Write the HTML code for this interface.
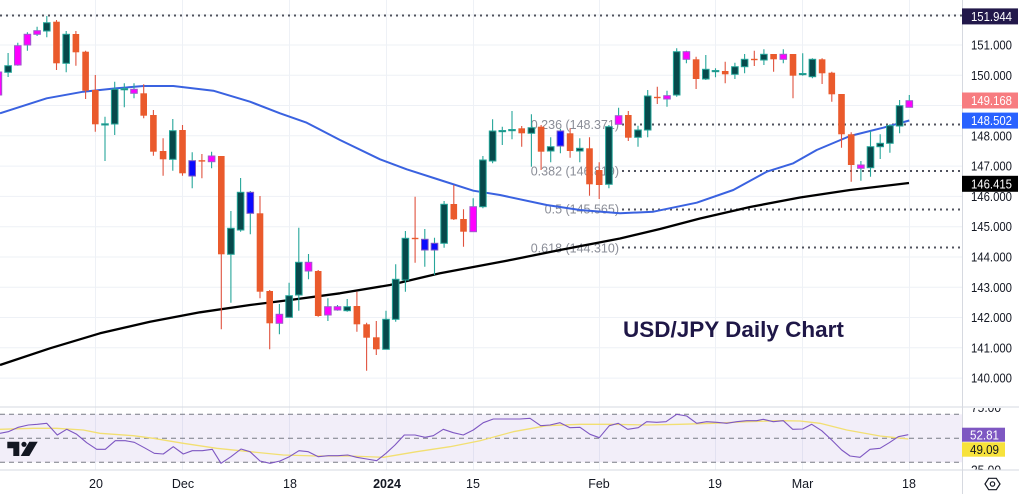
<!DOCTYPE html>
<html><head><meta charset="utf-8"><style>
html,body{margin:0;padding:0;background:#fff;}
svg{display:block;font-family:"Liberation Sans",Arial,sans-serif;}
.gw{stroke:#26a69a;stroke-width:1.1;fill:none}
.rw{stroke:#e0533f;stroke-width:1.1;fill:none}
.gb{fill:#07494b;stroke:#26a69a;stroke-width:1}
.rb{fill:#ea5a2c}
.pb{fill:#ff00ff;stroke:#9d5ccc;stroke-width:1}
.bb{fill:#0b0bff;stroke:#7e57c2;stroke-width:1}
.ax{font-size:13px;fill:#131722}
.fib{font-size:12.5px;fill:#8a8d97}
</style></head><body>
<svg width="1019" height="494" viewBox="0 0 1019 494" xmlns="http://www.w3.org/2000/svg">
<defs>
<clipPath id="rsiax"><rect x="962" y="408" width="57" height="61.5"/></clipPath>
<clipPath id="main"><rect x="0" y="0" width="962" height="407"/></clipPath>
</defs>
<rect width="1019" height="494" fill="#fff"/>
<g stroke="#eef1f6" stroke-width="1">
<line x1="0" x2="962" y1="15" y2="15"/><line x1="0" x2="962" y1="45" y2="45"/><line x1="0" x2="962" y1="75.3" y2="75.3"/><line x1="0" x2="962" y1="105.5" y2="105.5"/><line x1="0" x2="962" y1="135.8" y2="135.8"/><line x1="0" x2="962" y1="166.1" y2="166.1"/><line x1="0" x2="962" y1="196.4" y2="196.4"/><line x1="0" x2="962" y1="226.7" y2="226.7"/><line x1="0" x2="962" y1="257" y2="257"/><line x1="0" x2="962" y1="287.3" y2="287.3"/><line x1="0" x2="962" y1="317.5" y2="317.5"/><line x1="0" x2="962" y1="347.8" y2="347.8"/><line x1="0" x2="962" y1="378.1" y2="378.1"/>
</g>
<g stroke="#eef1f6" stroke-width="1">
<line x1="95.5" x2="95.5" y1="0" y2="470"/><line x1="182.5" x2="182.5" y1="0" y2="470"/><line x1="289.5" x2="289.5" y1="0" y2="470"/><line x1="386.5" x2="386.5" y1="0" y2="470"/><line x1="473.5" x2="473.5" y1="0" y2="470"/><line x1="599.5" x2="599.5" y1="0" y2="470"/><line x1="715.5" x2="715.5" y1="0" y2="470"/><line x1="802.5" x2="802.5" y1="0" y2="470"/><line x1="909.5" x2="909.5" y1="0" y2="470"/>
</g>
<text class="fib" x="619" y="128.8" text-anchor="end">0.236 (148.371)</text>
<text class="fib" x="619" y="175.3" text-anchor="end">0.382 (146.819)</text>
<text class="fib" x="619" y="213.5" text-anchor="end">0.5 (145.565)</text>
<text class="fib" x="619" y="252.5" text-anchor="end">0.618 (144.310)</text>
<g stroke="#50535e" stroke-width="2" stroke-dasharray="2 4" fill="none">
<line x1="0" x2="962" y1="15.5" y2="15.5"/>
<line x1="622" x2="962" y1="124.5" y2="124.5"/>
<line x1="622" x2="962" y1="171" y2="171"/>
<line x1="622" x2="962" y1="209.5" y2="209.5"/>
<line x1="622" x2="962" y1="247.5" y2="247.5"/>
</g>
<text x="623" y="337" font-size="22.5" font-weight="bold" fill="#1f1747">USD/JPY Daily Chart</text>
<g clip-path="url(#main)">
<polyline fill="none" stroke="#000" stroke-width="2.3" stroke-linejoin="round" points="0,365 50,348.3 100,333.3 150,321.7 200,312.3 250,305 290,300 340,293.3 390,285 440,273.3 500,262 513,259.5 560,250 620,238.5 660,229 700,218.5 750,207 800,197.5 850,190 909,183"/>
<polyline fill="none" stroke="#3a62e0" stroke-width="2" stroke-linejoin="round" points="0,113.3 46.7,98.3 83.3,91.7 116.7,88.3 143.3,86 173.3,86 213.3,90.7 250,101.7 280,113.3 306.7,122.7 340,140 380,159.3 406.7,169.3 440,180 473.3,190.7 500,195 546.7,205 580,210 620,213.3 653.3,211.7 696.7,202.7 733.3,190 766.7,171.7 793.3,163.3 816.7,150 850,136 883.3,127.7 909.3,120.5"/>
<path class="gw" d="M-1.6 69V98 M8.1 53V77 M17.8 42.7V65.7 M27.4 32.3V50.7 M37.1 26.7V36 M46.8 16V37.3 M66.2 31V72.3 M105 116.7V161 M114.7 81.7V135 M124.3 83.3V107.3 M134 83.3V98.3 M172.8 119V170.7 M192.2 152.3V188.3 M211.6 151.7V168.3 M230.9 211V302.7 M240.6 178V231.7 M250.3 191V234.3 M279.4 304V334.3 M289.1 282.7V317.3 M298.8 227.7V310.7 M308.5 254V279.3 M327.9 298.3V321 M337.5 305V310.7 M347.2 299V311.7 M386 310.7V349.3 M395.7 264.3V321.7 M405.4 231V291.7 M424.8 229V266.7 M434.5 237.7V275 M444.1 201V247.7 M473.2 198.3V231.7 M482.9 156V208.3 M492.6 119.3V163.3 M502.3 126.7V145 M512 111V139.3 M531.4 114.3V166.7 M550.7 137.3V162.3 M560.4 129V153.3 M579.8 138.3V162.3 M608.9 125V188.3 M618.6 107.7V124.3 M638 125.7V146.7 M647.7 90V137.3 M667 90.7V106.7 M676.7 48.3V96.7 M686.4 50.7V63.3 M705.8 55V80 M715.5 68.3V77.3 M734.9 62.7V79 M744.6 54V73.3 M763.9 49.3V65 M783.3 49.3V63.3 M802.7 53.3V75.7 M812.4 58.3V78.3 M860.9 161V180.7 M870.5 131V176.7 M880.2 134.3V159 M889.9 124.3V152.7 M899.6 100V133.3 M909.3 95V107.3"/>
<path class="rw" d="M56.5 20V70 M75.9 31V65.7 M85.6 50.7V99 M95.3 75V131.7 M143.7 84.3V118.3 M153.4 110V155.7 M163.1 138.3V175.7 M182.5 125V175.7 M201.9 154V178.3 M221.3 156V329.3 M260 196V298.3 M269.7 290V349.3 M318.2 270V316.7 M356.9 291.7V331.7 M366.6 322.7V370.7 M376.3 321V355 M415.1 196.7V262.7 M453.8 185V220 M463.5 209.3V246.7 M521.7 126V146.7 M541.1 125V170 M570.1 128.3V157.7 M589.5 137.3V195.7 M599.2 162.3V199 M628.3 111V141 M657.3 86.7V104 M696.1 56.7V89 M725.2 61.7V83.3 M754.3 50.7V66 M773.6 54V71.7 M793 54V98.3 M822.1 58.3V84 M831.8 71.7V101.7 M841.5 94V147.7 M851.2 132.3V181.7"/>
<g>
<rect class="pb" x="-4.9" y="72" width="6.6" height="23"/>
<rect class="gb" x="4.8" y="65.7" width="6.6" height="6.6"/>
<rect class="pb" x="14.5" y="45.7" width="6.6" height="19.3"/>
<rect class="pb" x="24.1" y="34.3" width="6.6" height="10.7"/>
<rect class="pb" x="33.8" y="30.7" width="6.6" height="3.6"/>
<rect class="gb" x="43.5" y="22.7" width="6.6" height="8.3"/>
<rect class="rb" x="53.2" y="21.7" width="6.6" height="41.6"/>
<rect class="gb" x="62.9" y="34.3" width="6.6" height="29"/>
<rect class="rb" x="72.6" y="34" width="6.6" height="18.3"/>
<rect class="rb" x="82.3" y="51.7" width="6.6" height="39"/>
<rect class="rb" x="92" y="90" width="6.6" height="34.3"/>
<rect class="gb" x="101.7" y="123.8" width="6.6" height="1.2"/>
<rect class="gb" x="111.4" y="89.3" width="6.6" height="34.7"/>
<rect class="gb" x="121" y="88.6" width="6.6" height="1.2"/>
<rect class="pb" x="130.7" y="89.3" width="6.6" height="4"/>
<rect class="rb" x="140.4" y="93.3" width="6.6" height="22.4"/>
<rect class="rb" x="150.1" y="115" width="6.6" height="36.7"/>
<rect class="rb" x="159.8" y="151" width="6.6" height="8.3"/>
<rect class="gb" x="169.5" y="130.7" width="6.6" height="28.6"/>
<rect class="rb" x="179.2" y="130" width="6.6" height="43.3"/>
<rect class="bb" x="188.9" y="160.7" width="6.6" height="15.3"/>
<rect class="rb" x="198.6" y="160.2" width="6.6" height="1.4"/>
<rect class="pb" x="208.3" y="156" width="6.6" height="5.7"/>
<rect class="rb" x="218" y="156" width="6.6" height="98.3"/>
<rect class="gb" x="227.6" y="228.3" width="6.6" height="26"/>
<rect class="gb" x="237.3" y="192.3" width="6.6" height="37.7"/>
<rect class="bb" x="247" y="192.3" width="6.6" height="21"/>
<rect class="rb" x="256.7" y="213.3" width="6.6" height="78.4"/>
<rect class="rb" x="266.4" y="291" width="6.6" height="32.3"/>
<rect class="pb" x="276.1" y="314.3" width="6.6" height="9"/>
<rect class="gb" x="285.8" y="295.7" width="6.6" height="21.6"/>
<rect class="gb" x="295.5" y="262.3" width="6.6" height="32.7"/>
<rect class="pb" x="305.2" y="262.3" width="6.6" height="8.7"/>
<rect class="rb" x="314.9" y="271" width="6.6" height="45"/>
<rect class="pb" x="324.6" y="306.7" width="6.6" height="8.3"/>
<rect class="pb" x="334.2" y="306.7" width="6.6" height="3.3"/>
<rect class="gb" x="343.9" y="306.7" width="6.6" height="4"/>
<rect class="rb" x="353.6" y="306" width="6.6" height="18.3"/>
<rect class="rb" x="363.3" y="324.3" width="6.6" height="13.4"/>
<rect class="rb" x="373" y="337.3" width="6.6" height="12"/>
<rect class="gb" x="382.7" y="319.3" width="6.6" height="30"/>
<rect class="gb" x="392.4" y="279.3" width="6.6" height="40"/>
<rect class="gb" x="402.1" y="238.3" width="6.6" height="41.7"/>
<rect class="rb" x="411.8" y="237.8" width="6.6" height="1.4"/>
<rect class="bb" x="421.5" y="239.3" width="6.6" height="10.7"/>
<rect class="bb" x="431.2" y="243.3" width="6.6" height="6.7"/>
<rect class="gb" x="440.8" y="204.3" width="6.6" height="39"/>
<rect class="rb" x="450.5" y="204" width="6.6" height="15.3"/>
<rect class="rb" x="460.2" y="219" width="6.6" height="12.7"/>
<rect class="pb" x="469.9" y="206.7" width="6.6" height="25"/>
<rect class="gb" x="479.6" y="160" width="6.6" height="46.7"/>
<rect class="gb" x="489.3" y="131" width="6.6" height="30"/>
<rect class="gb" x="499" y="130.5" width="6.6" height="1.2"/>
<rect class="gb" x="508.7" y="129.5" width="6.6" height="1.2"/>
<rect class="rb" x="518.4" y="128.3" width="6.6" height="5"/>
<rect class="gb" x="528.1" y="127.7" width="6.6" height="5.6"/>
<rect class="rb" x="537.8" y="126.7" width="6.6" height="25"/>
<rect class="gb" x="547.4" y="146.7" width="6.6" height="4.3"/>
<rect class="bb" x="557.1" y="131" width="6.6" height="15"/>
<rect class="rb" x="566.8" y="133.3" width="6.6" height="17.7"/>
<rect class="gb" x="576.5" y="148.3" width="6.6" height="2.7"/>
<rect class="rb" x="586.2" y="148.3" width="6.6" height="36"/>
<rect class="rb" x="595.9" y="170" width="6.6" height="15"/>
<rect class="gb" x="605.6" y="126.7" width="6.6" height="57.6"/>
<rect class="pb" x="615.3" y="115.7" width="6.6" height="8.6"/>
<rect class="rb" x="625" y="115" width="6.6" height="22.7"/>
<rect class="gb" x="634.7" y="130" width="6.6" height="7.3"/>
<rect class="gb" x="644.4" y="96" width="6.6" height="34"/>
<rect class="rb" x="654" y="96.8" width="6.6" height="1.4"/>
<rect class="pb" x="663.7" y="95.7" width="6.6" height="3.3"/>
<rect class="gb" x="673.4" y="51.7" width="6.6" height="43.3"/>
<rect class="pb" x="683.1" y="51.7" width="6.6" height="7.6"/>
<rect class="rb" x="692.8" y="59.3" width="6.6" height="19.7"/>
<rect class="gb" x="702.5" y="69.3" width="6.6" height="9.7"/>
<rect class="gb" x="712.2" y="70.5" width="6.6" height="1.2"/>
<rect class="rb" x="721.9" y="71" width="6.6" height="3.3"/>
<rect class="gb" x="731.6" y="66.7" width="6.6" height="7.6"/>
<rect class="gb" x="741.3" y="59.3" width="6.6" height="7.4"/>
<rect class="rb" x="751" y="58.8" width="6.6" height="1.4"/>
<rect class="gb" x="760.6" y="54.3" width="6.6" height="5.7"/>
<rect class="rb" x="770.3" y="54" width="6.6" height="5.3"/>
<rect class="pb" x="780" y="54.3" width="6.6" height="5"/>
<rect class="rb" x="789.7" y="54" width="6.6" height="21.7"/>
<rect class="gb" x="799.4" y="73.5" width="6.6" height="1.2"/>
<rect class="gb" x="809.1" y="59.3" width="6.6" height="17.4"/>
<rect class="rb" x="818.8" y="59.3" width="6.6" height="14"/>
<rect class="rb" x="828.5" y="72.7" width="6.6" height="21.6"/>
<rect class="rb" x="838.2" y="94" width="6.6" height="40.3"/>
<rect class="rb" x="847.9" y="134.3" width="6.6" height="30.7"/>
<rect class="pb" x="857.6" y="165" width="6.6" height="3.3"/>
<rect class="gb" x="867.2" y="146.7" width="6.6" height="21"/>
<rect class="gb" x="876.9" y="143.3" width="6.6" height="3.4"/>
<rect class="gb" x="886.6" y="125.7" width="6.6" height="17.6"/>
<rect class="gb" x="896.3" y="105.7" width="6.6" height="20.3"/>
<rect class="pb" x="906" y="100.7" width="6.6" height="6.6"/>
</g>
</g>
<rect x="0" y="414.3" width="962" height="48" fill="rgba(126,87,194,0.1)"/>
<g stroke="#787b86" stroke-width="1" stroke-dasharray="5 4">
<line x1="0" x2="962" y1="414.3" y2="414.3"/>
<line x1="0" x2="962" y1="438.3" y2="438.3"/>
<line x1="0" x2="962" y1="462.3" y2="462.3"/>
</g>
<polyline fill="none" stroke="#f2df72" stroke-width="1.3" stroke-linejoin="round" points="0,429.3 33.3,428.3 56.7,428.3 83.3,430 100,433.3 133.3,435.7 153.3,438.3 183.3,443.3 216.7,448.3 250,451.7 283.3,455 316.7,456 350,456 383.3,457.3 416.7,451.7 450,446.7 480,440.7 513.3,431.7 546.7,425.7 580,424.3 613.3,424.3 646.7,425 680,424.3 713.3,423.3 746.7,421.7 780,420.7 800,421 820,423.3 846.7,430 880,436 908.3,439"/>
<polyline fill="none" stroke="#7e57c2" stroke-width="1.1" stroke-linejoin="round" points="0,433.3 8.3,431.7 18.3,427.3 28.3,425 37.3,424.3 46.7,423.3 57.3,435 66.7,429.3 76.7,434.3 86.7,442.7 96.7,449.3 105.3,449.3 115.3,440.7 125.3,440.7 134.3,442.3 144.3,447.7 154.3,453.3 163.3,454 173.3,446.7 183.3,454 192.3,450.7 202.3,450.7 212.3,449.3 221,463.3 231,456.7 241,449 250,451.7 260,461 270,463.3 280,461 289.3,456.7 299,450.7 308.3,451.7 318.3,456.7 328.3,455.7 337.7,455.7 347.7,455 356.7,457.3 366.7,459 376.7,460.7 386,453.3 395,445 404.3,435 415,435 425,437.3 433.3,435.7 443.3,429.3 453.3,432.7 463.3,435 473.3,430 483.3,422.7 493.3,419 520,419 530,418.3 540.7,425.7 550,425 560,422.7 570,427.7 580,427.3 590,434.3 599.3,437.7 609.3,425.7 618.3,423.3 627.7,429.3 638.3,427.7 646.7,421.7 656.7,422.3 666,421.7 676.7,414.3 686.7,416 696.7,423.3 706.7,421.7 716.7,422.3 726.7,423.3 736.7,421.7 746.7,420.7 756.7,420.7 763.3,419.3 773.3,421.7 783.3,420.7 792.7,429.3 802.7,429 811.7,424.3 821.7,430.7 831.7,440 841.7,450 850,456 860,457.3 870,449.3 880,448.3 889.3,442.7 898.3,436.7 908.3,434.7"/>
<g fill="#131722">
<polygon points="7.3,441.7 19.3,441.7 19.3,456 13.3,456 13.3,448.3 7.3,448.3"/>
<circle cx="24" cy="444.3" r="2.6"/>
<polygon points="29.3,441.7 37.7,441.7 29.3,456 20.7,456"/>
</g>
<g stroke="#d6d9e0" stroke-width="1">
<line x1="0" x2="1019" y1="407" y2="407"/>
<line x1="0" x2="1019" y1="470" y2="470"/>
<line x1="962.5" x2="962.5" y1="0" y2="494"/>
</g>
<g class="ax">
<text x="971" y="49.5" textLength="41" lengthAdjust="spacingAndGlyphs">151.000</text>
<text x="971" y="79.8" textLength="41" lengthAdjust="spacingAndGlyphs">150.000</text>
<text x="971" y="140.3" textLength="41" lengthAdjust="spacingAndGlyphs">148.000</text>
<text x="971" y="170.6" textLength="41" lengthAdjust="spacingAndGlyphs">147.000</text>
<text x="971" y="200.9" textLength="41" lengthAdjust="spacingAndGlyphs">146.000</text>
<text x="971" y="231.2" textLength="41" lengthAdjust="spacingAndGlyphs">145.000</text>
<text x="971" y="261.5" textLength="41" lengthAdjust="spacingAndGlyphs">144.000</text>
<text x="971" y="291.8" textLength="41" lengthAdjust="spacingAndGlyphs">143.000</text>
<text x="971" y="322" textLength="41" lengthAdjust="spacingAndGlyphs">142.000</text>
<text x="971" y="352.3" textLength="41" lengthAdjust="spacingAndGlyphs">141.000</text>
<text x="971" y="382.6" textLength="41" lengthAdjust="spacingAndGlyphs">140.000</text>
</g>
<g class="ax" clip-path="url(#rsiax)">
<text x="971" y="412" textLength="30" lengthAdjust="spacingAndGlyphs">75.00</text>
<text x="971" y="474.5" textLength="30" lengthAdjust="spacingAndGlyphs">25.00</text>
</g>
<rect x="962" y="8.4" width="56" height="16" fill="#22184a"/>
<text x="971" y="21" font-size="13" fill="#fff" textLength="41" lengthAdjust="spacingAndGlyphs">151.944</text>
<rect x="962" y="92.5" width="56" height="16" fill="#f77c80"/>
<text x="971" y="105.1" font-size="13" fill="#fff" textLength="41" lengthAdjust="spacingAndGlyphs">149.168</text>
<rect x="962" y="112.6" width="56" height="16" fill="#2962ff"/>
<text x="971" y="125.2" font-size="13" fill="#fff" textLength="41" lengthAdjust="spacingAndGlyphs">148.502</text>
<rect x="962" y="175.8" width="56" height="16" fill="#000"/>
<text x="971" y="188.4" font-size="13" fill="#fff" textLength="41" lengthAdjust="spacingAndGlyphs">146.415</text>
<rect x="962" y="427.7" width="43" height="14" fill="#7e57c2"/>
<text x="970" y="439.3" font-size="13" fill="#fff" textLength="29" lengthAdjust="spacingAndGlyphs">52.81</text>
<rect x="962" y="442.3" width="43" height="14.4" fill="#f7e23b"/>
<text x="970" y="454" font-size="13" fill="#131722" textLength="29" lengthAdjust="spacingAndGlyphs">49.09</text>
<g font-size="12.5" fill="#131722" text-anchor="middle">
<text x="96" y="488">20</text>
<text x="183" y="488">Dec</text>
<text x="290" y="488">18</text>
<text x="387" y="488" font-weight="bold">2024</text>
<text x="473" y="488">15</text>
<text x="599" y="488">Feb</text>
<text x="715" y="488">19</text>
<text x="802.5" y="488">Mar</text>
<text x="909" y="488">18</text>
</g>
<polygon points="985,484 988.7,478.3 996.3,478.3 1000,484 996.3,489.7 988.7,489.7" fill="none" stroke="#131722" stroke-width="1.2"/>
<circle cx="992.5" cy="484" r="2.2" fill="none" stroke="#131722" stroke-width="1.2"/>
</svg>
</body></html>
